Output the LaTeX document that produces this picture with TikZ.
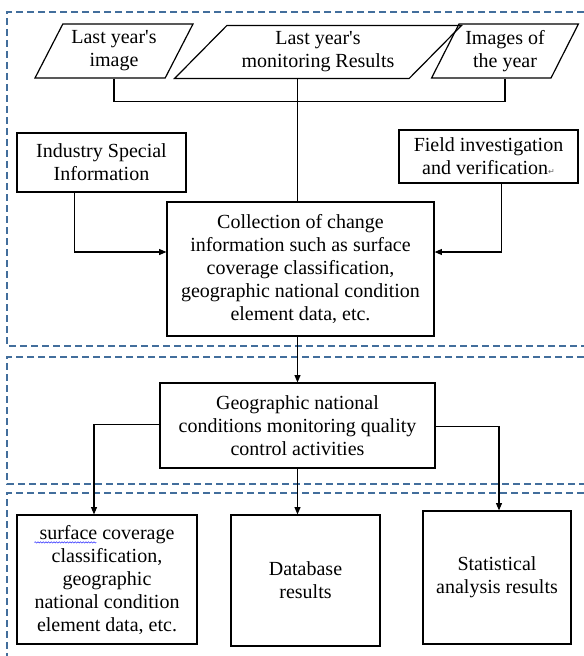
\documentclass[tikz,border=0pt]{standalone}
\usepackage{fontspec}
\setmainfont{Liberation Serif}
\newfontfamily\symfont{DejaVu Sans}
\usepackage{tikz}
\usetikzlibrary{shapes.geometric,arrows.meta,decorations.pathmorphing}
\definecolor{frameblue}{RGB}{66,110,156}
\newcommand\retmark{{\symfont\fontsize{6}{6}\selectfont\textcolor{black!60}{↵}}}

\begin{document}
\begin{tikzpicture}[x=0.75pt,y=-0.75pt,
  frame/.style={frameblue,line width=1pt,dash pattern=on 5.25pt off 3pt},
  box/.style n args={2}{draw,line width=0.9pt,minimum width=#1*0.75pt,minimum height=#2*0.75pt,inner sep=1pt,align=center,font=\fontsize{15}{17.25}\selectfont},
  para/.style n args={4}{trapezium,trapezium stretches=true,trapezium left angle=#3,trapezium right angle=#4,draw,line width=0.9pt,minimum width=#1*0.75pt,minimum height=#2*0.75pt,inner sep=1pt,align=center,font=\fontsize{15}{17.25}\selectfont},
  link/.style={line width=0.8pt},
  flow/.style={line width=0.8pt,-{Triangle[length=5.5pt,width=4.5pt]}}]
\useasboundingbox (0,0) rectangle (584,656);

% dashed frames of the three stages
\draw[frame] (584,12) -| (7,346) -- (584,346);
\draw[frame] (584,357) -| (7,484) -- (584,484);
\draw[frame] (584,493) -| (7,656);

% inputs
\node[para={158}{54}{61}{119}] (lastimg) at (114,51) {Last year\textquotesingle s\\image};
\node[para={287}{53}{44}{136}] (lastres) at (318,52) {Last year\textquotesingle s\\monitoring Results};
\node[para={148}{54}{61}{119}] (curimg) at (505,51) {Images of\\the year};
\node[box={169}{59}] (industry) at (101.5,162.5) {Industry Special\\Information};
\node[box={179}{53}] (field) at (488.5,156.5) {Field investigation\\and verification\retmark};
\node[box={267}{134}] (collect) at (300.5,269) {Collection of change\\information such as surface\\coverage classification,\\geographic national condition\\element data, etc.};

% quality control
\node[box={275}{85}] (quality) at (297.5,425.5) {Geographic national\\conditions monitoring quality\\control activities};

% outputs
\node[box={180}{129}] (surface) at (107,579.5) {surface coverage\\classification,\\geographic\\national condition\\element data, etc.};
\node[box={149}{131}] (database) at (305.5,580.5) {Database\\results};
\node[box={148}{133}] (stats) at (497,577.5) {Statistical\\analysis results};
\draw[blue!80,line width=0.4pt,decorate,decoration={snake,amplitude=0.5pt,segment length=2pt}]
  ([shift={(13.5pt,-21pt)}]surface.north west) -- ++(62,0);

\draw[link] (lastimg.south -| lastimg.center) -- ++(0,23) -| (curimg.south -| curimg.center);
\draw[link] (lastres.south -| quality.north) -- (collect.north -| quality.north);
\draw[flow] ([xshift=-20pt]industry.south) |- ([yshift=12.75pt]collect.west);
\draw[flow] ([xshift=9.4pt]field.south) |- ([yshift=12.75pt]collect.east);
\draw[flow] (collect.south -| quality.north) -- (quality.north);
\draw[flow] ([yshift=1pt]quality.west) -| ([xshift=-9.75pt]surface.north);
\draw[flow] (quality.south) -- (quality.south |- database.north);
\draw[flow] ([yshift=-1pt]quality.east) -| ([xshift=1.5pt]stats.north);
\end{tikzpicture}
\end{document}
